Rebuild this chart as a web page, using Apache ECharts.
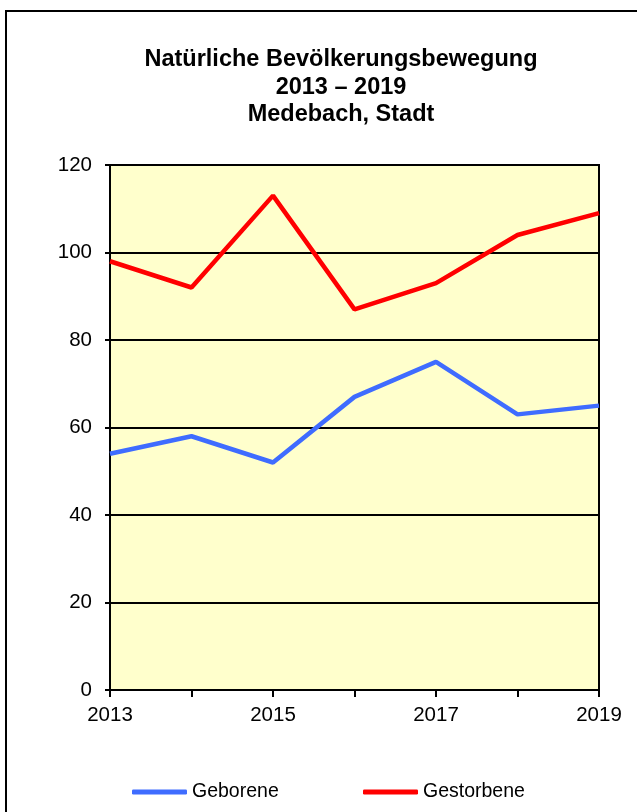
<!DOCTYPE html>
<html>
<head>
<meta charset="utf-8">
<script src="https://cdn.jsdelivr.net/npm/echarts@6/dist/echarts.min.js"></script>
<style>
  html, body { margin: 0; padding: 0; background: #fff; }
  #chart { width: 637px; height: 812px; }
</style>
</head>
<body>
<div id="chart"></div>
<script>
// Werte
const years = ['2013', '2014', '2015', '2016', '2017', '2018', '2019'];
const geborene = [54, 58, 52, 67, 75, 63, 65];
const gestorbene = [98, 92, 113, 87, 93, 104, 109];
const yTicks = { min: 0, max: 120, interval: 20 };

const FONT = 'Liberation Sans, Arial, sans-serif';

var myChart = echarts.init(document.getElementById('chart'));
myChart.setOption({
  animation: false,
  backgroundColor: '#ffffff',
  graphic: [{
    type: 'rect',
    shape: { x: 6, y: 11, width: 640, height: 820 },
    style: { fill: 'none', stroke: '#000', lineWidth: 2 },
    silent: true
  }],
  title: {
    text: 'Natürliche Bevölkerungsbewegung\n2013 – 2019\nMedebach, Stadt',
    left: 336,
    top: 41,
    textAlign: 'center',
    textStyle: {
      fontFamily: FONT,
      fontSize: 23.5,
      fontWeight: 'bold',
      color: '#000',
      lineHeight: 27.5
    }
  },
  legend: [{
    data: ['Geborene'],
    left: 132,
    top: 782,
    padding: 0,
    icon: 'roundRect',
    itemWidth: 55,
    itemHeight: 5,
    itemGap: 0,
    textStyle: { fontFamily: FONT, fontSize: 19.5, color: '#000' }
  }, {
    data: ['Gestorbene'],
    left: 363,
    top: 782,
    padding: 0,
    icon: 'roundRect',
    itemWidth: 55,
    itemHeight: 5,
    itemGap: 0,
    textStyle: { fontFamily: FONT, fontSize: 19.5, color: '#000' }
  }],
  grid: {
    left: 110,
    top: 165,
    width: 489,
    height: 525,
    show: true,
    backgroundColor: '#FFFFCC',
    borderColor: '#000',
    borderWidth: 2
  },
  xAxis: {
    type: 'category',
    boundaryGap: false,
    data: years,
    axisLine: { show: true, lineStyle: { color: '#000', width: 2 } },
    axisTick: { show: true, interval: 0, length: 7, lineStyle: { color: '#000', width: 2 } },
    axisLabel: { interval: 1, margin: 15, color: '#000', fontFamily: FONT, fontSize: 20.5 },
    splitLine: { show: false }
  },
  yAxis: {
    type: 'value',
    min: yTicks.min,
    max: yTicks.max,
    interval: yTicks.interval,
    axisLine: { show: true, lineStyle: { color: '#000', width: 2 } },
    axisTick: { show: true, length: 5, lineStyle: { color: '#000', width: 2 } },
    axisLabel: { margin: 18, color: '#000', fontFamily: FONT, fontSize: 20.5 },
    splitLine: { show: true, lineStyle: { color: '#000', width: 2 } }
  },
  series: [{
    name: 'Geborene',
    type: 'line',
    data: geborene,
    symbol: 'none',
    color: '#3F6CFF',
    lineStyle: { color: '#3F6CFF', width: 4.5 }
  }, {
    name: 'Gestorbene',
    type: 'line',
    data: gestorbene,
    symbol: 'none',
    color: '#FF0000',
    lineStyle: { color: '#FF0000', width: 4.5 }
  }]
});
</script>
</body>
</html>
